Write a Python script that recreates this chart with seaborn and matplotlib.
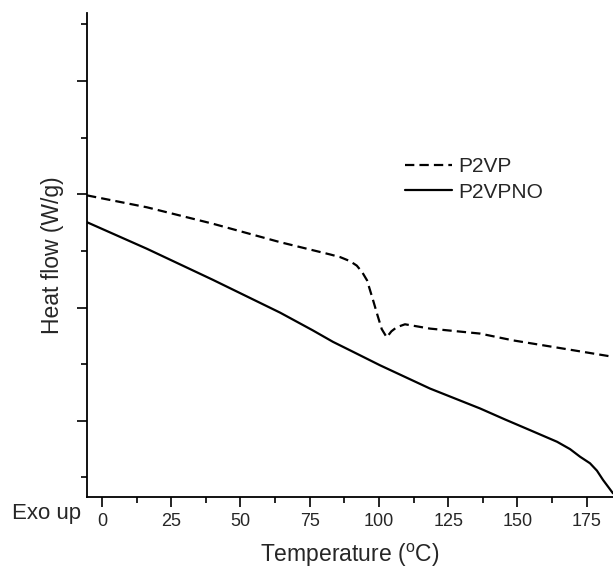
import numpy as np
import pandas as pd
import matplotlib
matplotlib.use("Agg")
import matplotlib.pyplot as plt
from matplotlib.ticker import MultipleLocator
import seaborn as sns

# P2VP (dashed)
p2vp_T = [-5.4, 16.2, 40.0, 64.3, 82.3, 86.0, 89.5, 92.0, 94.0, 95.7, 97.9,
          99.5, 101.0, 102.8, 104.5, 106.4, 109.4, 118.4, 136.5, 148.4, 166.4, 184.5]
p2vp_H = [2.99, 2.885, 2.74, 2.577, 2.469, 2.445, 2.41, 2.37, 2.31, 2.24, 2.063,
          1.93, 1.81, 1.737, 1.79, 1.826, 1.852, 1.814, 1.77, 1.71, 1.638, 1.565]

# P2VPNO (solid)
p2vpno_T = [-5.4, 16.2, 40.0, 64.3, 76.0, 83.4, 90.0, 100.4, 118.4, 136.5, 145.5,
            154.5, 164.3, 169.0, 172.6, 176.2, 178.7, 180.9, 184.5]
p2vpno_H = [2.753, 2.519, 2.245, 1.955, 1.80, 1.697, 1.617, 1.49, 1.285, 1.109, 1.012,
            0.918, 0.815, 0.75, 0.683, 0.625, 0.56, 0.478, 0.36]

series_names = ["P2VP", "P2VPNO"]
x_ticks = [0, 25, 50, 75, 100, 125, 150, 175]

df = pd.concat([
    pd.DataFrame({"T": p2vp_T, "H": p2vp_H, "sample": series_names[0]}),
    pd.DataFrame({"T": p2vpno_T, "H": p2vpno_H, "sample": series_names[1]}),
], ignore_index=True)

sns.set_style("ticks")
plt.rcParams["font.family"] = ["Liberation Sans", "DejaVu Sans"]

fig = plt.figure(figsize=(6.13, 5.71), dpi=100)
ax = fig.add_axes([87 / 613, 74.3 / 571, 526 / 613, 483.7 / 571])

sns.lineplot(data=df, x="T", y="H", hue="sample", style="sample",
             palette={"P2VP": "black", "P2VPNO": "black"},
             dashes={"P2VP": (4.2, 2.3), "P2VPNO": ""},
             linewidth=1.6, sort=False, estimator=None, ax=ax)

ax.set_xlim(-5.4, 184.5)
ax.set_ylim(0.33, 4.6)
ax.set_xticks(x_ticks)
ax.xaxis.set_minor_locator(MultipleLocator(12.5))
ax.yaxis.set_major_locator(MultipleLocator(1))
ax.yaxis.set_minor_locator(MultipleLocator(0.5))
ax.set_yticklabels([])
ax.tick_params(axis="both", which="major", length=7, width=1.2, color="black",
               direction="out", labelsize=13, pad=5)
ax.tick_params(axis="both", which="minor", length=4, width=1.2, color="black",
               direction="out")
for s in ["top", "right"]:
    ax.spines[s].set_visible(False)
for s in ["left", "bottom"]:
    ax.spines[s].set_linewidth(1.3)
    ax.spines[s].set_color("black")

ax.set_xlabel("Temperature ($\\mathregular{^oC}$)", fontsize=16.5, labelpad=8)
ax.set_ylabel("Heat flow (W/g)", fontsize=16.5)
ax.yaxis.set_label_coords(-(87 - 64) / 526, (571 - 255 - 74.3) / 483.7)

fig.text(12 / 613, 1 - 513 / 571, "Exo up", fontsize=16, va="center", ha="left")

leg = ax.legend(loc="upper left", bbox_to_anchor=(405 / 613, 1 - 157 / 571),
                bbox_transform=fig.transFigure, frameon=False, fontsize=15,
                handlelength=2.25, handletextpad=0.3, labelspacing=0.32,
                borderpad=0, borderaxespad=0)
for h in leg.get_lines():
    h.set_linewidth(1.6)

fig.savefig("out.png", dpi=100)
